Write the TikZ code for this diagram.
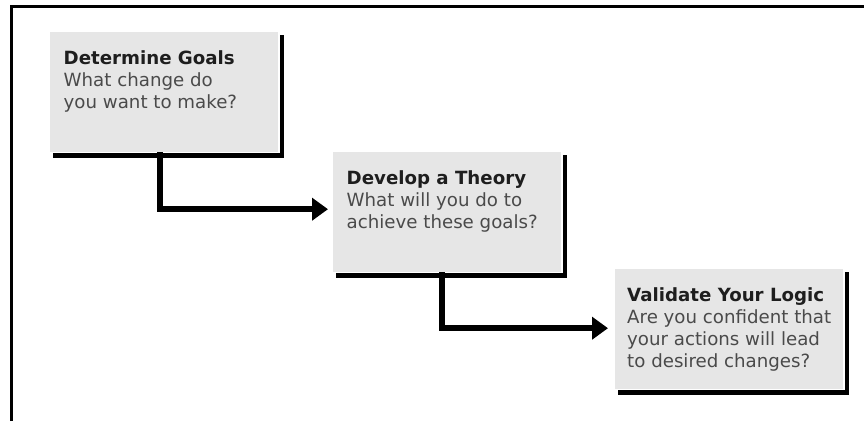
\documentclass[tikz,border=0pt]{standalone}
\usepackage{fontspec}
\setmainfont{DejaVu Sans}
\usetikzlibrary{arrows.meta,calc}
\definecolor{boxgray}{HTML}{E6E6E6}
\definecolor{titleink}{HTML}{1E1E1E}
\definecolor{bodyink}{HTML}{4A4A4A}
\begin{document}
\begin{tikzpicture}[x=1pt,y=-1pt,
  stepcard/.style={fill=boxgray, draw=none, minimum width=228pt, minimum height=120pt,
    anchor=north west, inner sep=0pt},
  cardtext/.style={anchor=north west, inner sep=0pt, align=left,
    font=\fontsize{18.2}{22}\selectfont, text=bodyink},
  shadeline/.style={line width=4.5pt, black, line join=miter},
  flow/.style={line width=5.5pt, black, -{Triangle[length=16pt,width=22pt]}}
]
\useasboundingbox (0,0) rectangle (864,421);

% page frame: top and left rules
\draw[line width=3pt] (11,421) -- (11,6.5) -- (864,6.5);

% the three step cards
\node[stepcard] (b1) at (50,32) {};
\node[stepcard] (b2) at (333,152) {};
\node[stepcard] (b3) at (615,269) {};

% drop-shadow rules on the right and bottom of each card
\foreach \c in {b1,b2,b3}{
  \draw[shadeline] ($(\c.north east)+(3.5,3)$) -- ($(\c.south east)+(3.5,3)$)
    -- ($(\c.south west)+(3,3)$);
}

% card texts
\node[cardtext] (t1) at ($(b1.north west)+(13.5,18)$)
  {\textbf{\textcolor{titleink}{Determine Goals}}\\What change do\\you want to make?};
\node[cardtext] (t2) at ($(b2.north west)+(13.5,18)$)
  {\textbf{\textcolor{titleink}{Develop a Theory}}\\What will you do to\\achieve these goals?};
\node[cardtext] (t3) at ($(b3.north west)+(12,18)$)
  {\textbf{\textcolor{titleink}{Validate Your Logic}}\\Are you confident that\\your actions will lead\\to desired changes?};

% elbow connectors between the cards
\draw[flow] ($(b1.south)+(-4,0)$) |- ($(b2.west)+(-5,-3)$);
\draw[flow] ($(b2.south)+(-5,0)$) |- ($(b3.west)+(-7,-1)$);
\end{tikzpicture}
\end{document}
